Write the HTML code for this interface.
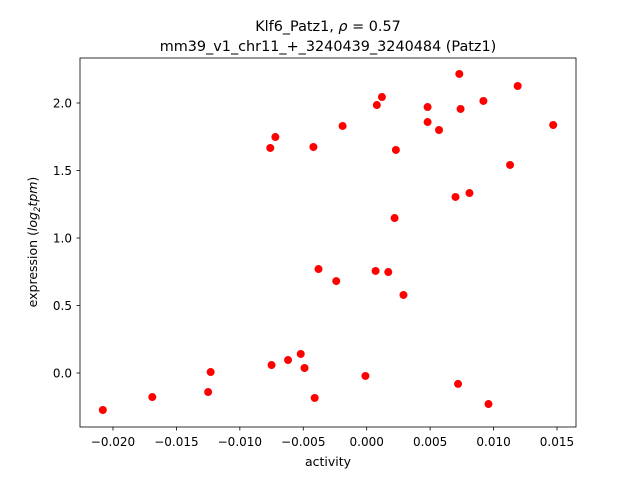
<!DOCTYPE html>
<html><head><meta charset="utf-8"><style>
body{margin:0;background:#fff;font-family:"DejaVu Sans","Liberation Sans",sans-serif;}
svg text{font-family:"DejaVu Sans","Liberation Sans",sans-serif;fill:#000;}
</style></head><body>
<svg id="chart" width="640" height="480" viewBox="0 0 640 480" xmlns="http://www.w3.org/2000/svg">
<rect width="640" height="480" fill="#fff"/>
<text x="328" y="31" font-size="14.4" text-anchor="middle">Klf6_Patz1, <tspan font-style="italic">ρ</tspan> = 0.57</text>
<text x="328" y="51" font-size="14.4" text-anchor="middle">mm39_v1_chr11_+_3240439_3240484 (Patz1)</text>
<g id="marks"></g>
<rect x="80" y="58" width="496" height="369" fill="none" stroke="#000" stroke-width="0.8"/>
<g id="xticks"></g><g id="yticks"></g>
<text x="328" y="466" font-size="12.5" text-anchor="middle">activity</text>
<text transform="translate(37,242) rotate(-90)" font-size="12.5" text-anchor="middle">expression (<tspan font-style="italic">log</tspan><tspan font-style="italic" font-size="8.5" dy="3">2</tspan><tspan font-style="italic" dy="-3">tpm</tspan>)</text>
</svg>
<script>
const activity=[-0.0208,-0.0169,-0.0123,-0.0125,-0.0076,-0.0072,-0.0075,-0.0062,-0.0052,-0.0049,-0.0042,-0.0041,-0.0038,-0.0024,-0.0019,-0.0001,0.0007,0.0008,0.0012,0.0017,0.0022,0.0023,0.0029,0.0048,0.0048,0.0057,0.0070,0.0072,0.0073,0.0074,0.0081,0.0092,0.0096,0.0113,0.0119,0.0147];
const expression=[-0.274,-0.178,0.007,-0.141,1.667,1.748,0.059,0.096,0.141,0.037,1.674,-0.185,0.770,0.681,1.83,-0.022,0.756,1.985,2.044,0.748,1.148,1.652,0.578,1.97,1.859,1.8,1.304,-0.081,2.215,1.956,1.333,2.015,-0.23,1.541,2.126,1.837];
const xTicks=[-0.020,-0.015,-0.010,-0.005,0.000,0.005,0.010,0.015];
const xTickLabels=["−0.020","−0.015","−0.010","−0.005","0.000","0.005","0.010","0.015"];
const yTicks=[0.0,0.5,1.0,1.5,2.0];
const yTickLabels=["0.0","0.5","1.0","1.5","2.0"];
const NS="http://www.w3.org/2000/svg";
const xs=v=>366.7+v*12686;
const ys=v=>373-v*135;
function mk(t,a,p){const e=document.createElementNS(NS,t);for(const k in a)e.setAttribute(k,a[k]);p.appendChild(e);return e;}
const marks=document.getElementById('marks');
activity.forEach((a,i)=>{const c=mk('circle',{cx:xs(a),cy:ys(expression[i]),r:4,fill:'#ff0000'},marks);

});
const xt=document.getElementById('xticks');
xTicks.forEach((v,i)=>{const x=xs(v);mk('line',{x1:x,x2:x,y1:427,y2:430.5,stroke:'#000','stroke-width':0.8},xt);
const t=mk('text',{x:x,y:446,'font-size':12,'text-anchor':'middle'},xt);t.textContent=xTickLabels[i];

});
const yt=document.getElementById('yticks');
yTicks.forEach((v,i)=>{const y=ys(v);mk('line',{x1:76.5,x2:80,y1:y,y2:y,stroke:'#000','stroke-width':0.8},yt);
const t=mk('text',{x:72,y:y+4.3,'font-size':12,'text-anchor':'end'},yt);t.textContent=yTickLabels[i];

});
</script>
</body></html>
